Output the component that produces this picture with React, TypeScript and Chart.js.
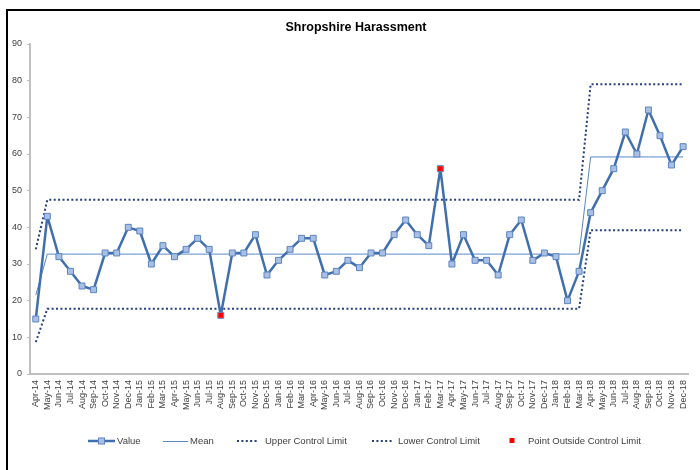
import React, { useEffect, useRef } from "react";
import { Chart, registerables } from "chart.js";

Chart.register(...registerables);

const TITLE = "Shropshire Harassment";

const months = [
  "Apr-14", "May-14", "Jun-14", "Jul-14", "Aug-14", "Sep-14", "Oct-14", "Nov-14", "Dec-14",
  "Jan-15", "Feb-15", "Mar-15", "Apr-15", "May-15", "Jun-15", "Jul-15", "Aug-15", "Sep-15", "Oct-15", "Nov-15", "Dec-15",
  "Jan-16", "Feb-16", "Mar-16", "Apr-16", "May-16", "Jun-16", "Jul-16", "Aug-16", "Sep-16", "Oct-16", "Nov-16", "Dec-16",
  "Jan-17", "Feb-17", "Mar-17", "Apr-17", "May-17", "Jun-17", "Jul-17", "Aug-17", "Sep-17", "Oct-17", "Nov-17", "Dec-17",
  "Jan-18", "Feb-18", "Mar-18", "Apr-18", "May-18", "Jun-18", "Jul-18", "Aug-18", "Sep-18", "Oct-18", "Nov-18", "Dec-18",
];

const values = [
  15, 43, 32, 28, 24, 23, 33, 33, 40,
  39, 30, 35, 32, 34, 37, 34, 16, 33, 33, 38, 27,
  31, 34, 37, 37, 27, 28, 31, 29, 33, 33, 38, 42,
  38, 35, 56, 30, 38, 31, 31, 27, 38, 42, 31, 33,
  32, 20, 28, 44, 50, 56, 66, 60, 72, 65, 57, 62,
];

const mean = [
  21.5, 32.7, 32.7, 32.7, 32.7, 32.7, 32.7, 32.7, 32.7,
  32.7, 32.7, 32.7, 32.7, 32.7, 32.7, 32.7, 32.7, 32.7, 32.7, 32.7, 32.7,
  32.7, 32.7, 32.7, 32.7, 32.7, 32.7, 32.7, 32.7, 32.7, 32.7, 32.7, 32.7,
  32.7, 32.7, 32.7, 32.7, 32.7, 32.7, 32.7, 32.7, 32.7, 32.7, 32.7, 32.7,
  32.7, 32.7, 32.7, 59.2, 59.2, 59.2, 59.2, 59.2, 59.2, 59.2, 59.2, 59.2,
];

const upperLimit = [
  34, 47.5, 47.5, 47.5, 47.5, 47.5, 47.5, 47.5, 47.5,
  47.5, 47.5, 47.5, 47.5, 47.5, 47.5, 47.5, 47.5, 47.5, 47.5, 47.5, 47.5,
  47.5, 47.5, 47.5, 47.5, 47.5, 47.5, 47.5, 47.5, 47.5, 47.5, 47.5, 47.5,
  47.5, 47.5, 47.5, 47.5, 47.5, 47.5, 47.5, 47.5, 47.5, 47.5, 47.5, 47.5,
  47.5, 47.5, 47.5, 79, 79, 79, 79, 79, 79, 79, 79, 79,
];

const lowerLimit = [
  8.7, 17.8, 17.8, 17.8, 17.8, 17.8, 17.8, 17.8, 17.8,
  17.8, 17.8, 17.8, 17.8, 17.8, 17.8, 17.8, 17.8, 17.8, 17.8, 17.8, 17.8,
  17.8, 17.8, 17.8, 17.8, 17.8, 17.8, 17.8, 17.8, 17.8, 17.8, 17.8, 17.8,
  17.8, 17.8, 17.8, 17.8, 17.8, 17.8, 17.8, 17.8, 17.8, 17.8, 17.8, 17.8,
  17.8, 17.8, 17.8, 39.2, 39.2, 39.2, 39.2, 39.2, 39.2, 39.2, 39.2, 39.2,
];

const outside = [
  null, null, null, null, null, null, null, null, null,
  null, null, null, null, null, null, null, 16, null, null, null, null,
  null, null, null, null, null, null, null, null, null, null, null, null,
  null, null, 56, null, null, null, null, null, null, null, null, null,
  null, null, null, null, null, null, null, null, null, null, null, null,
];

const yTicks = [0, 10, 20, 30, 40, 50, 60, 70, 80, 90];

const FONT = "'Liberation Sans', Arial, sans-serif";
const LINE = "#3f6fae";
const MARK_FILL = "#a9c0e4";
const MARK_BORDER = "#5b84c0";
const MEAN_C = "#5a88c6";
const LIMIT_C = "#243f7c";
const RED = "#ff0000";
const TEXT = "#404040";
const AXIS = "#bfbfbf";

const decorPlugin = {
  id: "decor",
  beforeDraw(chart: any) {
    const ctx = chart.ctx;
    ctx.save();
    ctx.fillStyle = "#ffffff";
    ctx.fillRect(0, 0, chart.width, chart.height);
    ctx.fillStyle = "#000000";
    ctx.fillRect(6, 9, chart.width - 6, 2);
    ctx.fillRect(6, 9, 2, chart.height - 9);
    ctx.restore();
  },
  afterDraw(chart: any) {
    const ctx = chart.ctx;
    ctx.save();
    // Title
    ctx.fillStyle = "#000000";
    ctx.font = `bold 12.5px ${FONT}`;
    ctx.textAlign = "center";
    ctx.textBaseline = "middle";
    ctx.fillText(TITLE, 356, 28);

    // Legend
    const ds = chart.data.datasets;
    const ly = 441;
    const items = [
      { kind: "value", x0: 88, x1: 115, tx: 117, label: ds[0].label },
      { kind: "mean", x0: 163, x1: 188, tx: 190, label: ds[1].label },
      { kind: "dot", x0: 237, x1: 259, tx: 265, label: ds[2].label },
      { kind: "dot", x0: 372, x1: 394, tx: 398, label: ds[3].label },
      { kind: "red", x0: 512, x1: 512, tx: 528, label: ds[4].label },
    ];
    ctx.font = `9.5px ${FONT}`;
    ctx.textAlign = "left";
    for (const it of items) {
      ctx.setLineDash([]);
      if (it.kind === "value") {
        ctx.strokeStyle = LINE;
        ctx.lineWidth = 2.5;
        ctx.beginPath();
        ctx.moveTo(it.x0, ly);
        ctx.lineTo(it.x1, ly);
        ctx.stroke();
        const cx = (it.x0 + it.x1) / 2;
        ctx.fillStyle = MARK_FILL;
        ctx.fillRect(cx - 3, ly - 3, 6, 6);
        ctx.strokeStyle = MARK_BORDER;
        ctx.lineWidth = 1;
        ctx.strokeRect(cx - 3, ly - 3, 6, 6);
      } else if (it.kind === "mean") {
        ctx.strokeStyle = MEAN_C;
        ctx.lineWidth = 1;
        ctx.beginPath();
        ctx.moveTo(it.x0, ly + 0.5);
        ctx.lineTo(it.x1, ly + 0.5);
        ctx.stroke();
      } else if (it.kind === "dot") {
        ctx.strokeStyle = LIMIT_C;
        ctx.lineWidth = 2;
        ctx.setLineDash([2, 2.4]);
        ctx.beginPath();
        ctx.moveTo(it.x0, ly);
        ctx.lineTo(it.x1, ly);
        ctx.stroke();
      } else {
        ctx.fillStyle = RED;
        ctx.fillRect(it.x0 - 2.5, ly - 3, 5, 5);
      }
      ctx.fillStyle = TEXT;
      ctx.fillText(it.label, it.tx, ly + 0.5);
    }
    ctx.restore();
  },
};

export default function App() {
  const ref = useRef<HTMLCanvasElement | null>(null);

  useEffect(() => {
    document.body.style.margin = "0";
    const canvas = ref.current;
    if (!canvas) return;
    const chart = new Chart(canvas, {
      type: "line",
      data: {
        labels: months,
        datasets: [
          {
            label: "Value",
            data: values,
            borderColor: LINE,
            borderWidth: 2.5,
            borderJoinStyle: "round",
            borderCapStyle: "round",
            pointStyle: "rect",
            pointRadius: 4.2,
            pointBackgroundColor: MARK_FILL,
            pointBorderColor: MARK_BORDER,
            pointBorderWidth: 1,
            tension: 0,
            order: 1,
          },
          {
            label: "Mean",
            data: mean,
            borderColor: MEAN_C,
            borderWidth: 1,
            pointRadius: 0,
            tension: 0,
            order: 2,
          },
          {
            label: "Upper Control Limit",
            data: upperLimit,
            borderColor: LIMIT_C,
            borderWidth: 2,
            borderDash: [2, 2.4],
            pointRadius: 0,
            tension: 0,
            order: 3,
          },
          {
            label: "Lower Control Limit",
            data: lowerLimit,
            borderColor: LIMIT_C,
            borderWidth: 2,
            borderDash: [2, 2.4],
            pointRadius: 0,
            tension: 0,
            order: 4,
          },
          {
            label: "Point Outside Control Limit",
            data: outside,
            showLine: false,
            pointStyle: "rect",
            pointRadius: 3.5,
            pointBackgroundColor: RED,
            pointBorderColor: RED,
            pointBorderWidth: 0,
            order: 0,
          },
        ],
      },
      options: {
        responsive: false,
        animation: false,
        devicePixelRatio: 1,
        layout: { padding: { left: 8, right: 10, top: 44, bottom: 36 } },
        plugins: {
          legend: { display: false },
          title: { display: false },
          tooltip: { enabled: false },
        },
        scales: {
          x: {
            type: "category",
            offset: true,
            grid: { display: false, drawTicks: false },
            border: { display: true, color: AXIS, width: 2 },
            ticks: {
              autoSkip: false,
              maxRotation: 90,
              minRotation: 90,
              padding: 6,
              color: TEXT,
              font: { family: FONT, size: 9 },
            },
            afterFit(scale: any) {
              scale.height = 60;
            },
          },
          y: {
            min: 0,
            max: 90,
            afterBuildTicks(scale: any) {
              scale.ticks = yTicks.map((v) => ({ value: v }));
            },
            grid: {
              drawOnChartArea: false,
              drawTicks: true,
              tickLength: 3,
              color: AXIS,
            },
            border: { display: true, color: AXIS, width: 2 },
            ticks: {
              padding: 5,
              color: TEXT,
              font: { family: FONT, size: 9 },
            },
            afterFit(scale: any) {
              scale.width = 22;
            },
          },
        },
      },
      plugins: [decorPlugin],
    });
    return () => chart.destroy();
  }, []);

  return (
    <canvas
      ref={ref}
      width={700}
      height={470}
      style={{ display: "block", width: 700, height: 470 }}
    />
  );
}
